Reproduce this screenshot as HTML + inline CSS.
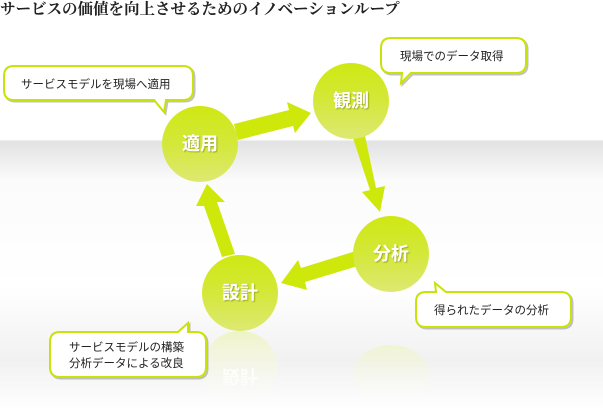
<!DOCTYPE html>
<html><head><meta charset="utf-8"><style>
html,body{margin:0;padding:0;width:603px;height:410px;overflow:hidden;background:#fff}
svg{display:block}
text{font-family:"Liberation Sans","Noto Sans CJK JP",sans-serif}
</style></head><body>
<svg width="603" height="410" viewBox="0 0 603 410" xmlns="http://www.w3.org/2000/svg">
<defs>
<linearGradient id="bg" x1="0" y1="0" x2="0" y2="1">
<stop offset="0" stop-color="#fff"/>
<stop offset="0.34" stop-color="#fff"/>
<stop offset="0.345" stop-color="#e2e2e2"/>
<stop offset="0.44" stop-color="#fbfbfb"/>
<stop offset="0.7" stop-color="#fff"/>
<stop offset="0.88" stop-color="#f1f1f1"/>
<stop offset="1" stop-color="#fff"/>
</linearGradient>
<linearGradient id="cg" x1="0" y1="0" x2="0" y2="1">
<stop offset="0" stop-color="#cfe812"/>
<stop offset="0.5" stop-color="#d3e83a"/>
<stop offset="1" stop-color="#dde972"/>
</linearGradient>
<linearGradient id="rg" x1="0" y1="0" x2="0" y2="1">
<stop offset="0" stop-color="#eef3c4"/>
<stop offset="1" stop-color="#fff" stop-opacity="0"/>
</linearGradient>
<filter id="ts"><feDropShadow dx="1" dy="1" stdDeviation="0.6" flood-color="#889000" flood-opacity="0.7"/></filter>
</defs>
<rect width="603" height="410" fill="url(#bg)"/>
<text x="0" y="14" font-weight="bold" font-size="15.5" fill="#222" style="font-family:'Liberation Serif','Noto Serif CJK JP',serif">サービスの価値を向上させるためのイノベーションループ</text>

<ellipse cx="240" cy="369" rx="38" ry="38" fill="url(#rg)"/>
<ellipse cx="391" cy="375" rx="38" ry="30" fill="url(#rg)" opacity="0.7"/>
<text x="240" y="374" text-anchor="middle" font-size="18" font-weight="bold" fill="#fff" opacity="0.8" transform="translate(0,744) scale(1,-1)">設計</text>

<g fill="#cde80a">
<polygon points="234,124 289,110 287,102 311,113 295,133 293,126 238,140"/>
<polygon points="353,138 365,136 376,188 385,186 380,212 362,192 370,190"/>
<polygon points="356,251 361,265 305,282 307,290 281,283 298,260 301,268"/>
<polygon points="222,257 235,254 217,202 225,202 207,184 196,206 204,206"/>
</g>

<g>
<circle cx="200" cy="144" r="38" fill="url(#cg)"/>
<circle cx="351" cy="101" r="38" fill="url(#cg)"/>
<circle cx="391" cy="254" r="38" fill="url(#cg)"/>
<circle cx="240" cy="293" r="38" fill="url(#cg)"/>
</g>
<g font-size="18" font-weight="bold" fill="#fff" text-anchor="middle" filter="url(#ts)">
<text x="200" y="150">適用</text>
<text x="351" y="107">観測</text>
<text x="391" y="260">分析</text>
<text x="240" y="299">設計</text>
</g>

<g stroke="#c9e20a" stroke-width="2" fill="#fff">
<g transform="translate(1.5,1.5)" stroke="#999" opacity="0.6" fill="none">
<path d="M14,66 H183 Q193,66 193,76 V90 Q193,100 183,100 H166 L164,112 L154,100 H14 Q4,100 4,90 V76 Q4,66 14,66 Z"/>
<path d="M391,38 H516 Q526,38 526,48 V63 Q526,73 516,73 H411 L401,83 L402,73 H391 Q381,73 381,63 V48 Q381,38 391,38 Z"/>
<path d="M426,292 H436 L435,283 L446,292 H561 Q571,292 571,302 V317 Q571,327 561,327 H426 Q416,327 416,317 V302 Q416,292 426,292 Z"/>
<path d="M60,332 H178 L188,323 L188,332 H196 Q206,332 206,342 V367 Q206,377 196,377 H60 Q50,377 50,367 V342 Q50,332 60,332 Z"/>
</g>
<path d="M14,66 H183 Q193,66 193,76 V90 Q193,100 183,100 H166 L164,112 L154,100 H14 Q4,100 4,90 V76 Q4,66 14,66 Z"/>
<path d="M391,38 H516 Q526,38 526,48 V63 Q526,73 516,73 H411 L401,83 L402,73 H391 Q381,73 381,63 V48 Q381,38 391,38 Z"/>
<path d="M426,292 H436 L435,283 L446,292 H561 Q571,292 571,302 V317 Q571,327 561,327 H426 Q416,327 416,317 V302 Q416,292 426,292 Z"/>
<path d="M60,332 H178 L188,323 L188,332 H196 Q206,332 206,342 V367 Q206,377 196,377 H60 Q50,377 50,367 V342 Q50,332 60,332 Z"/>
</g>
<g font-size="11.5" fill="#222">
<text x="21" y="88">サービスモデルを現場へ適用</text>
<text x="400" y="60">現場でのデータ取得</text>
<text x="434" y="314">得られたデータの分析</text>
<text x="69" y="351">サービスモデルの構築</text>
<text x="69" y="367">分析データによる改良</text>
</g>
</svg>
</body></html>
